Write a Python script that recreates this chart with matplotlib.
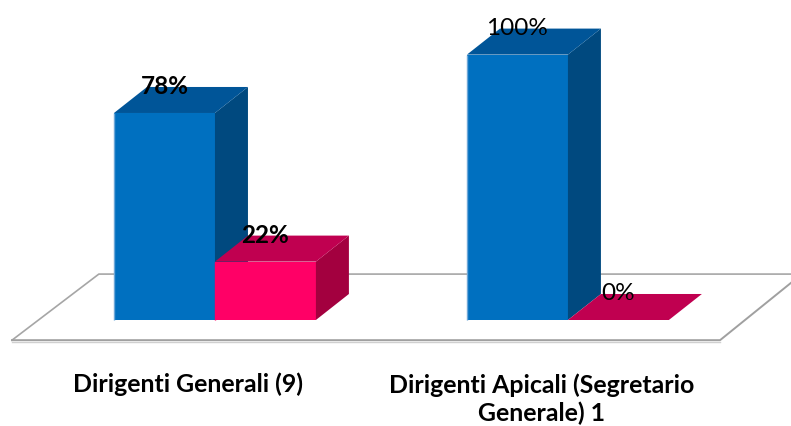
import matplotlib
matplotlib.use('Agg')
import matplotlib.pyplot as plt
from matplotlib.patches import Polygon

categories = ['Dirigenti Generali (9)', 'Dirigenti Apicali (Segretario\nGenerale) 1']
blue_values = [78, 100]
pink_values = [22, 0]
value_labels_blue = ['78%', '100%']
value_labels_pink = ['22%', '0%']

BAR_W = 0.286
DX = 0.0935
DY = 9.8
LABEL_GAP = 10.0
FONT = 'Lato'


def draw_bar(ax, left, value, front, top, side, edge):
    """Draw one pseudo 3D column: front face, top face and right side."""
    ax.bar(left, value, BAR_W, align='edge', color=front, linewidth=0, zorder=3)
    right = left + BAR_W
    if value > 0:
        ax.add_patch(Polygon([(right, 0), (right + DX, DY), (right + DX, value + DY), (right, value)],
                             closed=True, fc=side, ec='none', zorder=3))
        ax.plot([left, left], [0, value], color=edge, lw=1, zorder=3, solid_capstyle='butt')
    ax.add_patch(Polygon([(left, value), (left + DX, value + DY), (right + DX, value + DY), (right, value)],
                         closed=True, fc=top, ec='none', zorder=3))


def draw_floor(ax):
    """Floor of the 3D chart: open parallelogram in grey."""
    front_y = -7.6
    back_y = 17.3
    ax.plot([-0.575, -0.329, 1.632], [front_y, back_y, back_y], color='#a6a6a6', lw=1.2, zorder=1)
    ax.plot([-0.575, 1.431, 1.632], [front_y, front_y, 14.0], color='#a0a0a0', lw=1.4, zorder=1)
    ax.plot([-0.575, 1.431], [front_y - 0.6, front_y - 0.6], color='#d0d0d0', lw=1, zorder=0)


fig = plt.figure(figsize=(7.91, 4.26), dpi=100)
ax = fig.add_axes([0, 0, 1, 1])
ax.set_xlim(-0.609, 1.632)
ax.set_ylim(-39.94, 120.57)
ax.axis('off')

draw_floor(ax)

for i, cat in enumerate(categories):
    draw_bar(ax, i - BAR_W, blue_values[i], '#0070c0', '#005598', '#00497f', '#6ea8d8')
    draw_bar(ax, i, pink_values[i], '#ff0066', '#c00050', '#a3003f', '#ff0066')
    weight = 'bold' if i == 0 else 'normal'
    ax.text(i - BAR_W / 2, blue_values[i] + LABEL_GAP, value_labels_blue[i], ha='center', va='center',
            fontsize=17.5, family=FONT, fontweight=weight, color='black', zorder=5)
    ax.text(i + BAR_W / 2, pink_values[i] + LABEL_GAP, value_labels_pink[i], ha='center', va='center',
            fontsize=17.5, family=FONT, fontweight=weight, color='black', zorder=5)

# category names under the floor
ax.text(0 - 0.075, -24.3, categories[0], ha='center', va='center', fontsize=17.9,
        family=FONT, fontweight='bold', color='black')
ax.text(1 - 0.075, -29.9, categories[1], ha='center', va='center', fontsize=17.9,
        family=FONT, fontweight='bold', color='black', linespacing=1.25)

fig.savefig('out.png', dpi=100)
